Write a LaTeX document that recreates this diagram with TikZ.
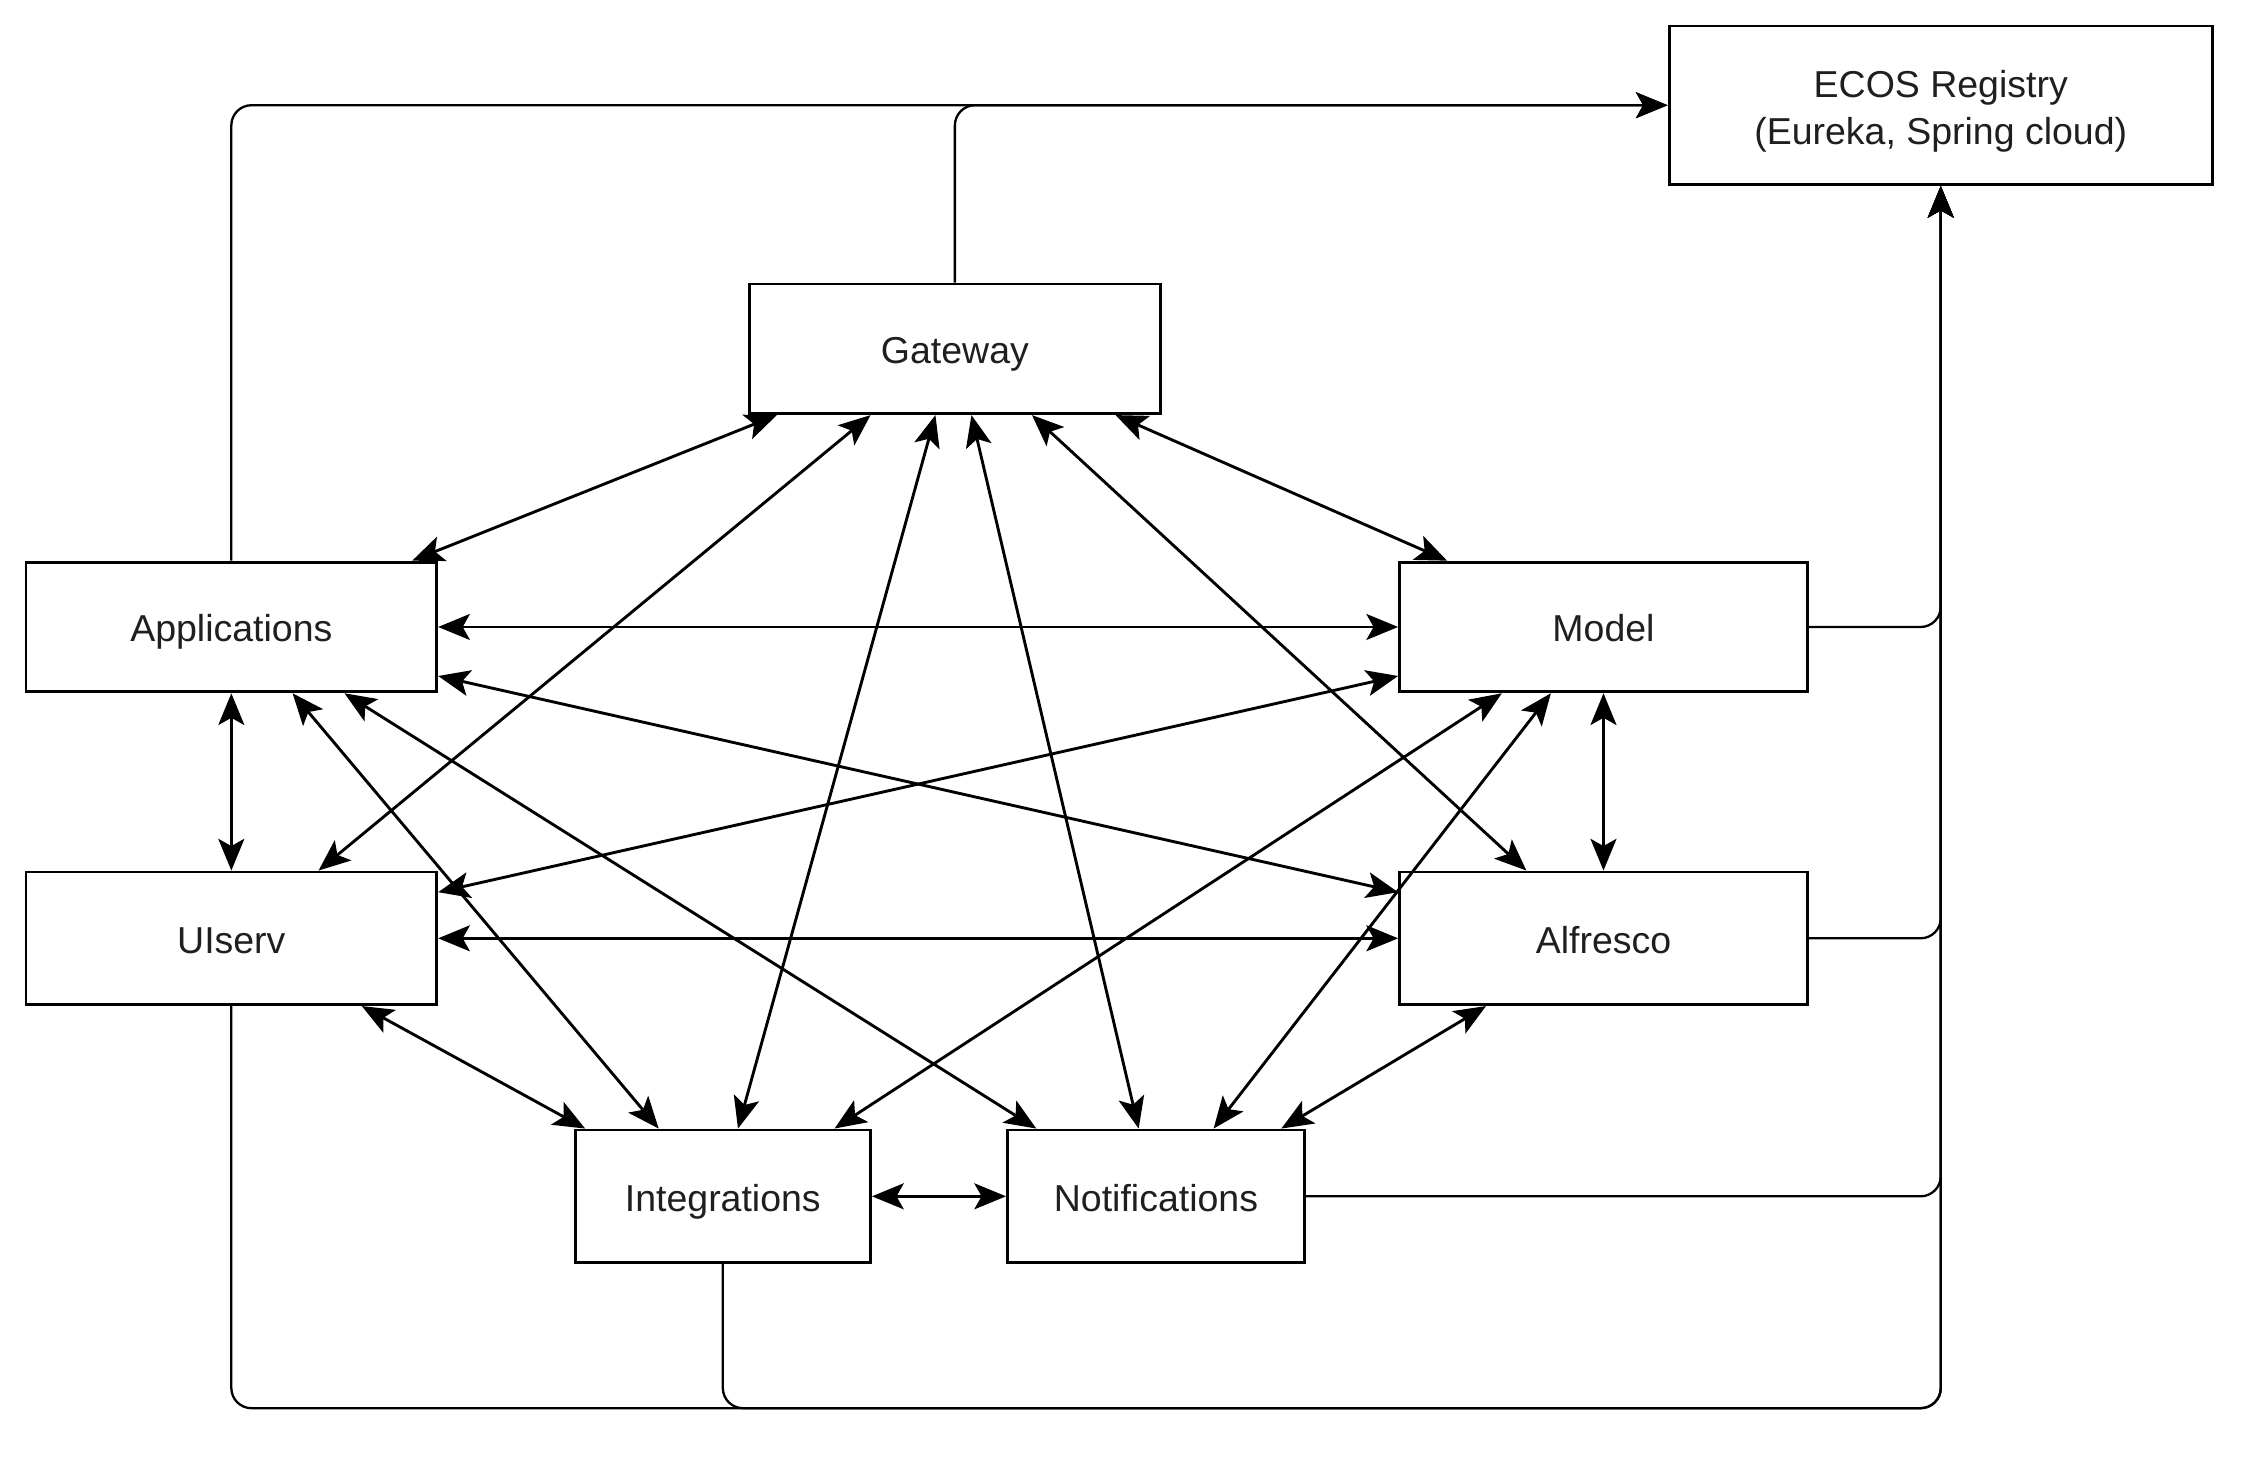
\documentclass[tikz,border=0pt]{standalone}
\usepackage{fontspec}
\setmainfont{Liberation Sans}
\usetikzlibrary{arrows.meta,calc}
\begin{document}
\begin{tikzpicture}[x=1pt,y=-1pt,
  box/.style={draw, line width=2pt, minimum width=285pt, minimum height=90pt,
    inner sep=0pt, font=\fontsize{26}{33}\selectfont, text=black!88, align=center,
    text height=23pt, text depth=2.4pt},
  link/.style={line width=2pt,
    {Stealth[length=22pt,width=18pt,inset=5pt]}-{Stealth[length=22pt,width=18pt,inset=5pt]}},
  reg/.style={line width=1.6pt, rounded corners=14pt,
    -{Stealth[length=22pt,width=18pt,inset=5pt]}}]
\useasboundingbox (0,0) rectangle (1568,1014);

% services
\node[box, minimum width=377pt, minimum height=110pt, text height=, text depth=] (ecos) at (1346.5,73)
  {\rule{0pt}{27pt}ECOS Registry\\(Eureka, Spring cloud)};
\node[box] (gw)    at (662.5,242)  {Gateway};
\node[box] (apps)  at (160.5,435)  {Applications};
\node[box, minimum width=283pt] (model) at (1112.5,435) {Model};
\node[box, minimum height=92pt] (ui)  at (160.5,651)  {UIserv};
\node[box, minimum width=283pt, minimum height=92pt] (alf) at (1112.5,651) {Alfresco};
\node[box, minimum width=205pt, minimum height=92pt] (integ) at (501.5,830) {Integrations};
\node[box, minimum width=206pt, minimum height=92pt] (notif) at (802,830) {Notifications};

\coordinate (busbot) at (1346.5,977);

% registration with the registry
\draw[reg] (apps.north) |- (ecos.west);
\draw[reg] (gw.north) |- (ecos.west);
\draw[reg] (model.east) -| (ecos.south);
\draw[reg] (alf.east) -| (ecos.south);
\draw[reg] (notif.east) -| (ecos.south);
\draw[reg] (ui.south) |- (busbot) -- (ecos.south);
\draw[reg] (integ.south) |- (busbot) -- (ecos.south);

% gateway links
\draw[link] ([xshift=20pt]gw.south west)  -- ([xshift=-18pt]apps.north east);
\draw[link] ([xshift=85pt]gw.south west)  -- ([xshift=204pt]ui.north west);
\draw[link] ([xshift=130pt]gw.south west) -- ([xshift=114pt]integ.north west);
\draw[link] ([xshift=155pt]gw.south west) -- ([xshift=92pt]notif.north west);
\draw[link] ([xshift=197pt]gw.south west) -- ([xshift=89pt]alf.north west);
\draw[link] ([xshift=255pt]gw.south west) -- ([xshift=34pt]model.north west);

% applications links
\draw[link] (apps.east) -- (model.west);
\draw[link] ([yshift=12pt]apps.south east) -- ([yshift=-15pt]alf.north west);
\draw[link] (apps.south) -- (ui.north);
\draw[link] ([xshift=186pt]apps.south west) -- ([xshift=59pt]integ.north west);
\draw[link] ([xshift=222pt]apps.south west) -- ([xshift=21pt]notif.north west);

% uiserv links
\draw[link] ([yshift=-15pt]ui.north east) -- ([yshift=12pt]model.south west);
\draw[link] (ui.east) -- (alf.west);
\draw[link] ([xshift=234pt]ui.south west) -- ([xshift=8pt]integ.north west);

% model links
\draw[link] ([xshift=72pt]model.south west) -- ([xshift=-26pt]integ.north east);
\draw[link] ([xshift=106pt]model.south west) -- ([xshift=144pt]notif.north west);
\draw[link] (model.south) -- (alf.north);

% alfresco and integrations links
\draw[link] ([xshift=61pt]alf.south west) -- ([xshift=-17pt]notif.north east);
\draw[link] (integ.east) -- (notif.west);
\end{tikzpicture}
\end{document}
